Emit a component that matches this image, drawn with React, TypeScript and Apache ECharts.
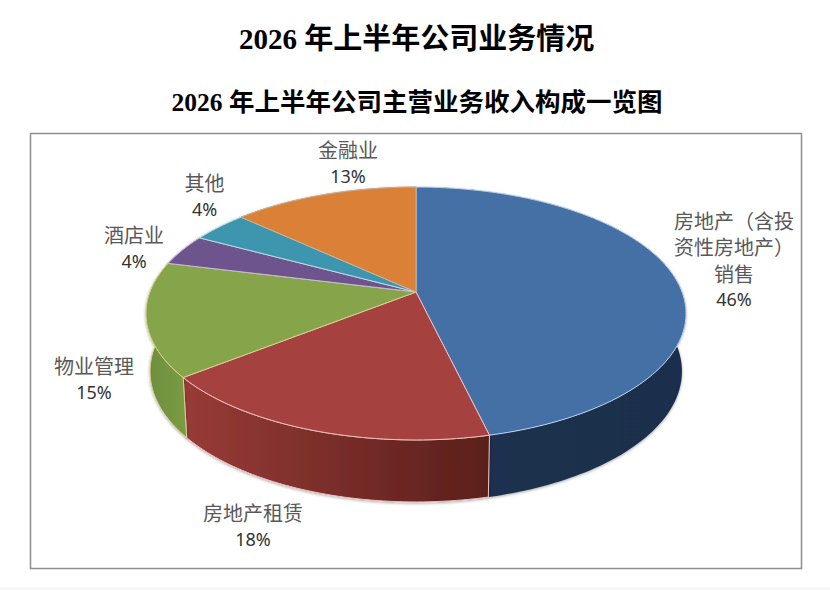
import React, { useEffect, useRef } from "react";
import * as echarts from "echarts";

const MAIN_TITLE = "2026 年上半年公司业务情况";
const SUB_TITLE = "2026 年上半年公司主营业务收入构成一览图";
const names = ["房地产（含投\n资性房地产）\n销售", "房地产租赁", "物业管理", "酒店业", "其他", "金融业"];
const shares = [46.3, 18, 14.6, 4, 4, 13.1];

const topColors = ["#4470A5", "#A54240", "#86A44A", "#6E548D", "#3E96AE", "#DA8137"];
const edgeColors = ["#BFD3EC", "#EFC0BC", "#D9D08F", "#C8BBD8", "#BEDDE8", "#C9AE97"];
const wallStops = [
  ["#1B2F4D", "#1B304E"],
  ["#983B37", "#5A1F1B"],
  ["#7B9C44", "#6C8D3C"],
  ["#54406C", "#54406C"],
  ["#2E7286", "#2E7286"],
  ["#A8642A", "#A8642A"],
];
const labelCentres: [number, number][] = [
  [734, 260],
  [253, 526],
  [94, 379],
  [134, 247.5],
  [204.5, 195.5],
  [348, 163],
];

const APEX_X = 416;
const APEX_Y = 292;
const PERSPECTIVE = -0.17;
const SCALE_Y = 122.8;
const SCALE_X = 270 * Math.sqrt(1 - PERSPECTIVE * PERSPECTIVE);
const SIDE_DEPTH = 57;
const FRONT_EXTRA = 5;
const BASE_SHRINK = 0.985;
const TOTAL = shares.reduce((a, b) => a + b, 0);

const project = (share: number, lower: boolean): number[] => {
  const angle = (share / TOTAL) * Math.PI * 2;
  const ux = Math.sin(angle);
  const uy = -Math.cos(angle);
  const den = 1 + PERSPECTIVE * uy;
  const dx = (SCALE_X * ux) / den;
  const dy = (SCALE_Y * uy) / den;
  return lower
    ? [APEX_X + dx * BASE_SHRINK, APEX_Y + dy + SIDE_DEPTH + FRONT_EXTRA * Math.max(0, uy)]
    : [APEX_X + dx, APEX_Y + dy];
};

const arcPoints = (from: number, to: number, lower: boolean): number[][] => {
  const n = Math.max(4, Math.ceil((to - from) * 3));
  const pts: number[][] = [];
  for (let i = 0; i <= n; i++) pts.push(project(from + ((to - from) * i) / n, lower));
  return pts;
};

const startOf = (idx: number) => shares.slice(0, idx).reduce((a, b) => a + b, 0);

const renderWall = (params: any, api: any) => {
  const idx = params.dataIndex;
  const from = startOf(idx);
  const to = from + api.value(0);
  const upper = arcPoints(from, to, false);
  const lower = arcPoints(from, to, true).reverse();
  const xs = upper.concat(lower).map((p) => p[0]);
  const minX = Math.min(...xs);
  const maxX = Math.max(...xs);
  const [a, b] = wallStops[idx];
  const fill = new echarts.graphic.LinearGradient(minX, 0, maxX, 0, [
    { offset: 0, color: idx === 1 ? a : b },
    { offset: 1, color: idx === 1 ? b : a },
  ], true);
  return {
    type: "polygon",
    shape: { points: upper.concat(lower) },
    style: {
      fill,
      stroke: idx === 0 ? "rgba(255,255,255,0)" : edgeColors[idx],
      lineWidth: 1,
      shadowBlur: 3,
      shadowColor: "rgba(0,0,0,0.35)",
      shadowOffsetX: 0,
      shadowOffsetY: 1,
    },
  };
};

const renderTop = (params: any, api: any) => {
  const idx = params.dataIndex;
  const from = startOf(idx);
  const to = from + api.value(0);
  return {
    type: "polygon",
    shape: { points: [[APEX_X, APEX_Y], ...arcPoints(from, to, false)] },
    style: { fill: topColors[idx], stroke: edgeColors[idx], lineWidth: 1 },
  };
};

const titleFont = '"Liberation Serif", "Noto Sans CJK SC", serif';

export default function App() {
  const ref = useRef<HTMLDivElement>(null);
  useEffect(() => {
    document.body.style.margin = "0";
    const chart = echarts.init(ref.current!, null, { renderer: "svg" });
    chart.setOption({
      animation: false,
      backgroundColor: "#ffffff",
      title: [
        {
          text: MAIN_TITLE,
          left: 411.5,
          top: 34,
          textAlign: "center",
          textVerticalAlign: "middle",
          textStyle: { fontFamily: titleFont, fontWeight: "bold", fontSize: 29, color: "#000000" },
        },
        {
          text: SUB_TITLE,
          left: 412,
          top: 97,
          textAlign: "center",
          textVerticalAlign: "middle",
          textStyle: { fontFamily: titleFont, fontWeight: "bold", fontSize: 25.5, color: "#000000" },
        },
      ],
      graphic: [
        {
          type: "rect",
          z: 0,
          shape: { x: 0, y: 587, width: 830, height: 3 },
          style: { fill: "#F6F6F6" },
        },
        {
          type: "rect",
          z: 0,
          shape: { x: 30.5, y: 133.5, width: 771, height: 435 },
          style: { fill: "#ffffff", stroke: "#8E8E8E", lineWidth: 1.5 },
        },
        ...names.map((name, i) => ({
          type: "text",
          z: 10,
          x: labelCentres[i][0],
          y: labelCentres[i][1],
          style: {
            text:
              name
                .split("\n")
                .map((l) => `{n|${l}}`)
                .join("\n") + `\n{v|${Math.round(shares[i])}%}`,
            align: "center",
            verticalAlign: "middle",
            rich: {
              n: { fontFamily: '"Noto Sans CJK SC"', fontSize: 20, lineHeight: 26.3, fill: "#595959", align: "center" },
              v: { fontFamily: '"Noto Sans"', fontSize: 18, lineHeight: 26.3, fill: "#333333", align: "center" },
            },
          },
        })),
      ],
      series: [
        { type: "custom", coordinateSystem: "none", silent: true, z: 2, data: shares, renderItem: renderWall },
        { type: "custom", coordinateSystem: "none", silent: true, z: 3, data: shares, renderItem: renderTop },
      ],
    });
    return () => chart.dispose();
  }, []);
  return <div ref={ref} style={{ width: 830, height: 590 }} />;
}
